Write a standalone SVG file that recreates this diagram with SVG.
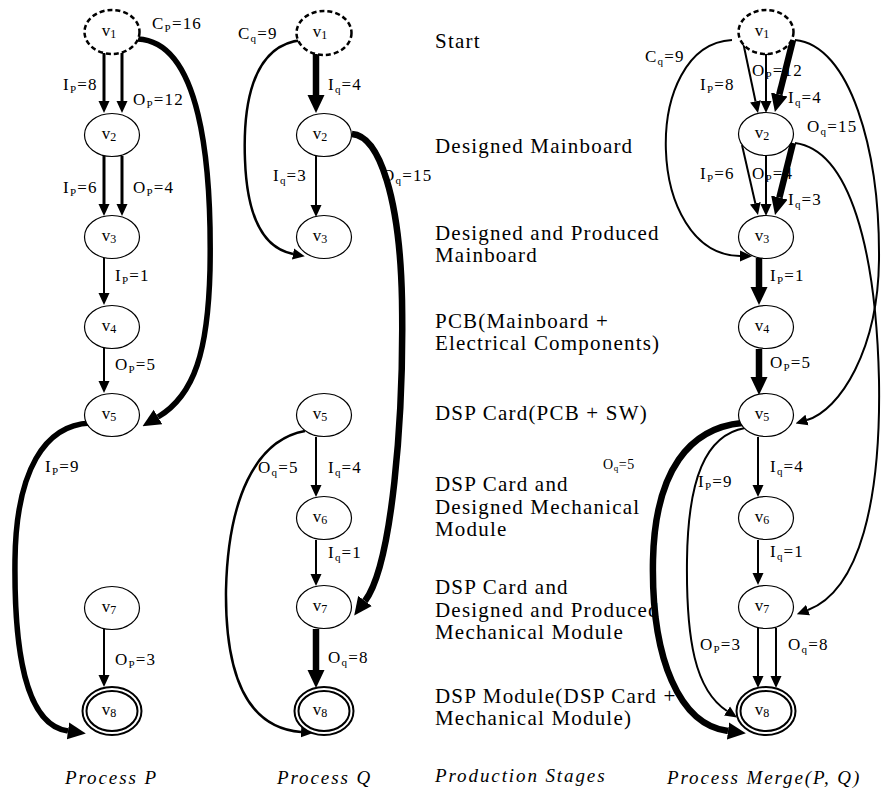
<svg xmlns="http://www.w3.org/2000/svg" width="882" height="798" viewBox="0 0 882 798" font-family="'Liberation Serif', 'Times New Roman', serif">
  <style>
    text { font-family: "Liberation Serif", "Times New Roman", serif; fill: #000; }
    .n { fill: #fff; stroke: #000; stroke-width: 1.2; }
    .start { fill: #fff; stroke: #000; stroke-width: 2.5; stroke-dasharray: 5 3; }
    .fin { fill: #fff; stroke: #000; stroke-width: 2; }
    .vl { font-size: 17px; text-anchor: middle; }
    .vs { font-size: 12px; }
    .lbl { font-size: 17px; letter-spacing: 1.2px; }
    .sub { font-size: 11px; }
    .small { font-size: 14px; letter-spacing: 0.6px; }
    .small .sub { font-size: 9px; }
    .stage { font-size: 21px; letter-spacing: 1.2px; }
    .cap { font-size: 19px; font-style: italic; letter-spacing: 1.9px; }
    .e { fill: none; stroke: #000; }
    .t1 { stroke-width: 2; marker-end: url(#a1); }
    .t2 { stroke-width: 2.5; marker-end: url(#a1); }
    .t3 { stroke-width: 3; marker-end: url(#a1); }
    .k5 { stroke-width: 5.5; marker-end: url(#a2); }
    .k6 { stroke-width: 6.5; marker-end: url(#a2); }
  </style>
  <defs>
    <marker id="a1" viewBox="0 -6 12 12" refX="0" refY="0" markerWidth="12" markerHeight="12" markerUnits="userSpaceOnUse" orient="auto">
      <path d="M0,-5.5 L12,0 L0,5.5 Z" fill="#000"/>
    </marker>
    <marker id="a2" viewBox="0 -9 18 18" refX="0" refY="0" markerWidth="18" markerHeight="18" markerUnits="userSpaceOnUse" orient="auto">
      <path d="M0,-8.5 L18,0 L0,8.5 Z" fill="#000"/>
    </marker>
  </defs>

  <rect width="882" height="798" fill="#fff"/>

  <!-- edge labels -->
  <g id="labels">
    <!-- process P -->
    <text class="lbl" x="152" y="29">C<tspan class="sub" dy="3">P</tspan><tspan dy="-3">=16</tspan></text>
    <text class="lbl" x="63" y="90">I<tspan class="sub" dy="3">P</tspan><tspan dy="-3">=8</tspan></text>
    <text class="lbl" x="133" y="105">O<tspan class="sub" dy="3">P</tspan><tspan dy="-3">=12</tspan></text>
    <text class="lbl" x="63" y="193">I<tspan class="sub" dy="3">P</tspan><tspan dy="-3">=6</tspan></text>
    <text class="lbl" x="133" y="193">O<tspan class="sub" dy="3">P</tspan><tspan dy="-3">=4</tspan></text>
    <text class="lbl" x="115" y="281">I<tspan class="sub" dy="3">P</tspan><tspan dy="-3">=1</tspan></text>
    <text class="lbl" x="115" y="370">O<tspan class="sub" dy="3">P</tspan><tspan dy="-3">=5</tspan></text>
    <text class="lbl" x="45" y="472">I<tspan class="sub" dy="3">P</tspan><tspan dy="-3">=9</tspan></text>
    <text class="lbl" x="115" y="665">O<tspan class="sub" dy="3">P</tspan><tspan dy="-3">=3</tspan></text>
    <!-- process Q -->
    <text class="lbl" x="238" y="39">C<tspan class="sub" dy="3">q</tspan><tspan dy="-3">=9</tspan></text>
    <text class="lbl" x="328" y="90">I<tspan class="sub" dy="3">q</tspan><tspan dy="-3">=4</tspan></text>
    <text class="lbl" x="273" y="181">I<tspan class="sub" dy="3">q</tspan><tspan dy="-3">=3</tspan></text>
    <text class="lbl" x="382" y="181">O<tspan class="sub" dy="3">q</tspan><tspan dy="-3">=15</tspan></text>
    <text class="lbl" x="258" y="473">O<tspan class="sub" dy="3">q</tspan><tspan dy="-3">=5</tspan></text>
    <text class="lbl" x="328" y="473">I<tspan class="sub" dy="3">q</tspan><tspan dy="-3">=4</tspan></text>
    <text class="lbl" x="328" y="558">I<tspan class="sub" dy="3">q</tspan><tspan dy="-3">=1</tspan></text>
    <text class="lbl" x="328" y="663">O<tspan class="sub" dy="3">q</tspan><tspan dy="-3">=8</tspan></text>
    <!-- merged process -->
    <text class="lbl" x="645" y="62">C<tspan class="sub" dy="3">q</tspan><tspan dy="-3">=9</tspan></text>
    <text class="lbl" x="700" y="90">I<tspan class="sub" dy="3">P</tspan><tspan dy="-3">=8</tspan></text>
    <text class="lbl" x="752" y="76">O<tspan class="sub" dy="3">P</tspan><tspan dy="-3">=12</tspan></text>
    <text class="lbl" x="788" y="103">I<tspan class="sub" dy="3">q</tspan><tspan dy="-3">=4</tspan></text>
    <text class="lbl" x="807" y="132">O<tspan class="sub" dy="3">q</tspan><tspan dy="-3">=15</tspan></text>
    <text class="lbl" x="700" y="179">I<tspan class="sub" dy="3">P</tspan><tspan dy="-3">=6</tspan></text>
    <text class="lbl" x="752" y="179">O<tspan class="sub" dy="3">P</tspan><tspan dy="-3">=4</tspan></text>
    <text class="lbl" x="788" y="205">I<tspan class="sub" dy="3">q</tspan><tspan dy="-3">=3</tspan></text>
    <text class="lbl" x="770" y="281">I<tspan class="sub" dy="3">P</tspan><tspan dy="-3">=1</tspan></text>
    <text class="lbl" x="770" y="368">O<tspan class="sub" dy="3">P</tspan><tspan dy="-3">=5</tspan></text>
    <text class="small" x="603" y="469">O<tspan class="sub" dy="2">q</tspan><tspan dy="-2">=5</tspan></text>
    <text class="lbl" x="770" y="472">I<tspan class="sub" dy="3">q</tspan><tspan dy="-3">=4</tspan></text>
    <text class="lbl" x="698" y="487">I<tspan class="sub" dy="3">P</tspan><tspan dy="-3">=9</tspan></text>
    <text class="lbl" x="770" y="557">I<tspan class="sub" dy="3">q</tspan><tspan dy="-3">=1</tspan></text>
    <text class="lbl" x="700" y="650">O<tspan class="sub" dy="3">P</tspan><tspan dy="-3">=3</tspan></text>
    <text class="lbl" x="788" y="650">O<tspan class="sub" dy="3">q</tspan><tspan dy="-3">=8</tspan></text>
  </g>

  <!-- production stage descriptions -->
  <g id="stages">
    <text class="stage" x="435" y="48">Start</text>
    <text class="stage" x="435" y="153">Designed Mainboard</text>
    <text class="stage" x="435" y="240">Designed and Produced</text>
    <text class="stage" x="435" y="262">Mainboard</text>
    <text class="stage" x="435" y="328">PCB(Mainboard +</text>
    <text class="stage" x="435" y="350">Electrical Components)</text>
    <text class="stage" x="435" y="420">DSP Card(PCB + SW)</text>
    <text class="stage" x="435" y="491">DSP Card and</text>
    <text class="stage" x="435" y="514">Designed Mechanical</text>
    <text class="stage" x="435" y="536">Module</text>
    <text class="stage" x="435" y="594">DSP Card and</text>
    <text class="stage" x="435" y="617">Designed and Produced</text>
    <text class="stage" x="435" y="639">Mechanical Module</text>
    <text class="stage" x="435" y="703">DSP Module(DSP Card +</text>
    <text class="stage" x="435" y="725">Mechanical Module)</text>
  </g>

  <!-- column captions -->
  <g id="captions">
    <text class="cap" x="65" y="784">Process P</text>
    <text class="cap" x="277" y="784">Process Q</text>
    <text class="cap" x="435" y="782">Production Stages</text>
    <text class="cap" x="667" y="784">Process Merge(P, Q)</text>
  </g>

  <g id="connectors">
    <!-- process P -->
    <path class="e t3" d="M104,53 V101"/>
    <path class="e t3" d="M122,53 V101"/>
    <path class="e t3" d="M104,156 V204"/>
    <path class="e t3" d="M122,156 V204"/>
    <path class="e t1" d="M104,258 V293"/>
    <path class="e t1" d="M104,348 V381"/>
    <path class="e t1" d="M104,629 V675"/>
    <path class="e k5" d="M138,39 C200,42 212,160 210,270 C208,350 195,395 158,417"/>
    <path class="e k5" d="M90,423 C45,425 16,470 15,560 C14,650 25,725 68,731"/>
    <!-- process Q -->
    <path class="e k6" d="M316,54 V95"/>
    <path class="e t1" d="M316,156 V205"/>
    <path class="e t1" d="M316,437 V485"/>
    <path class="e t1" d="M316,540 V574"/>
    <path class="e k6" d="M316,629 V670"/>
    <path class="e t2" d="M302,40 C250,45 243,110 245,160 C247,215 262,248 293,254"/>
    <path class="e k6" d="M352,134 C380,136 400,200 402,300 C404,420 392,565 365,601"/>
    <path class="e t2" d="M305,431 C255,440 228,500 226,590 C225,680 250,728 301,732"/>
    <!-- merged process -->
    <path class="e t1" d="M743,42 L755.5,101.3"/>
    <path class="e t1" d="M761,54 H771 M766,54 V101"/>
    <path class="e k6" d="M793,40 L779.3,94.5"/>
    <path class="e t1" d="M742,145 L755.3,203.3"/>
    <path class="e t1" d="M766,156 V204"/>
    <path class="e k6" d="M793,143 L779.4,197.5"/>
    <path class="e k6" d="M759,258 V287"/>
    <path class="e k6" d="M759,349 V377"/>
    <path class="e t1" d="M758,437 V485"/>
    <path class="e t1" d="M758,540 V573"/>
    <path class="e t1" d="M758,628 V676"/>
    <path class="e t1" d="M776,628 V676"/>
    <path class="e t1" d="M732,40 C640,45 645,255 740,256"/>
    <path class="e t1" d="M795,40 C850,45 880,150 879,260 C878,350 840,410 807,420"/>
    <path class="e t1" d="M795,143 C850,150 876,250 879,380 C881,500 860,590 808,610"/>
    <path class="e k6" d="M742,423 C690,428 655,470 653,560 C651,660 680,725 728,731"/>
    <path class="e t1" d="M745,428 C705,435 688,480 687,560 C686,640 695,690 727,711"/>
  </g>

  <!-- process P nodes -->
  <g id="p-v1"><ellipse class="start" cx="112" cy="32" rx="27.5" ry="22"/><text class="vl" x="109" y="36">v<tspan class="vs" dy="2">1</tspan></text></g>
  <g id="p-v2"><ellipse class="n" cx="112" cy="135" rx="27.5" ry="21.5"/><text class="vl" x="109" y="139">v<tspan class="vs" dy="2">2</tspan></text></g>
  <g id="p-v3"><ellipse class="n" cx="112" cy="237" rx="27.5" ry="21.5"/><text class="vl" x="109" y="241">v<tspan class="vs" dy="2">3</tspan></text></g>
  <g id="p-v4"><ellipse class="n" cx="112" cy="327" rx="27.5" ry="21.5"/><text class="vl" x="109" y="331">v<tspan class="vs" dy="2">4</tspan></text></g>
  <g id="p-v5"><ellipse class="n" cx="112" cy="415" rx="27.5" ry="21.5"/><text class="vl" x="109" y="419">v<tspan class="vs" dy="2">5</tspan></text></g>
  <g id="p-v7"><ellipse class="n" cx="112" cy="608" rx="27.5" ry="21.5"/><text class="vl" x="109" y="612">v<tspan class="vs" dy="2">7</tspan></text></g>
  <g id="p-v8"><ellipse class="fin" cx="112" cy="711" rx="29.5" ry="24"/><ellipse class="fin" cx="112" cy="711" rx="25.5" ry="20"/><text class="vl" x="109" y="715">v<tspan class="vs" dy="2">8</tspan></text></g>

  <!-- process Q nodes -->
  <g id="q-v1"><ellipse class="start" cx="324" cy="33" rx="27.5" ry="22"/><text class="vl" x="320" y="37">v<tspan class="vs" dy="2">1</tspan></text></g>
  <g id="q-v2"><ellipse class="n" cx="324" cy="135" rx="27.5" ry="21.5"/><text class="vl" x="320" y="139">v<tspan class="vs" dy="2">2</tspan></text></g>
  <g id="q-v3"><ellipse class="n" cx="324" cy="237" rx="27.5" ry="21.5"/><text class="vl" x="320" y="241">v<tspan class="vs" dy="2">3</tspan></text></g>
  <g id="q-v5"><ellipse class="n" cx="324" cy="415" rx="27.5" ry="21.5"/><text class="vl" x="320" y="419">v<tspan class="vs" dy="2">5</tspan></text></g>
  <g id="q-v6"><ellipse class="n" cx="324" cy="518" rx="27.5" ry="21.5"/><text class="vl" x="320" y="522">v<tspan class="vs" dy="2">6</tspan></text></g>
  <g id="q-v7"><ellipse class="n" cx="324" cy="607" rx="27.5" ry="21.5"/><text class="vl" x="320" y="611">v<tspan class="vs" dy="2">7</tspan></text></g>
  <g id="q-v8"><ellipse class="fin" cx="324" cy="711" rx="29.5" ry="24"/><ellipse class="fin" cx="324" cy="711" rx="25.5" ry="20"/><text class="vl" x="320" y="715">v<tspan class="vs" dy="2">8</tspan></text></g>

  <!-- merged process nodes -->
  <g id="m-v1"><ellipse class="start" cx="766" cy="32" rx="27.5" ry="22"/><text class="vl" x="762" y="36">v<tspan class="vs" dy="2">1</tspan></text></g>
  <g id="m-v2"><ellipse class="n" cx="766" cy="134" rx="27.5" ry="21.5"/><text class="vl" x="762" y="138">v<tspan class="vs" dy="2">2</tspan></text></g>
  <g id="m-v3"><ellipse class="n" cx="766" cy="237" rx="27.5" ry="21.5"/><text class="vl" x="762" y="241">v<tspan class="vs" dy="2">3</tspan></text></g>
  <g id="m-v4"><ellipse class="n" cx="766" cy="327" rx="27.5" ry="21.5"/><text class="vl" x="762" y="331">v<tspan class="vs" dy="2">4</tspan></text></g>
  <g id="m-v5"><ellipse class="n" cx="766" cy="415" rx="27.5" ry="21.5"/><text class="vl" x="762" y="419">v<tspan class="vs" dy="2">5</tspan></text></g>
  <g id="m-v6"><ellipse class="n" cx="766" cy="518" rx="27.5" ry="21.5"/><text class="vl" x="762" y="522">v<tspan class="vs" dy="2">6</tspan></text></g>
  <g id="m-v7"><ellipse class="n" cx="766" cy="607" rx="27.5" ry="21.5"/><text class="vl" x="762" y="611">v<tspan class="vs" dy="2">7</tspan></text></g>
  <g id="m-v8"><ellipse class="fin" cx="766" cy="711" rx="29.5" ry="24"/><ellipse class="fin" cx="766" cy="711" rx="25.5" ry="20"/><text class="vl" x="762" y="715">v<tspan class="vs" dy="2">8</tspan></text></g>
</svg>
